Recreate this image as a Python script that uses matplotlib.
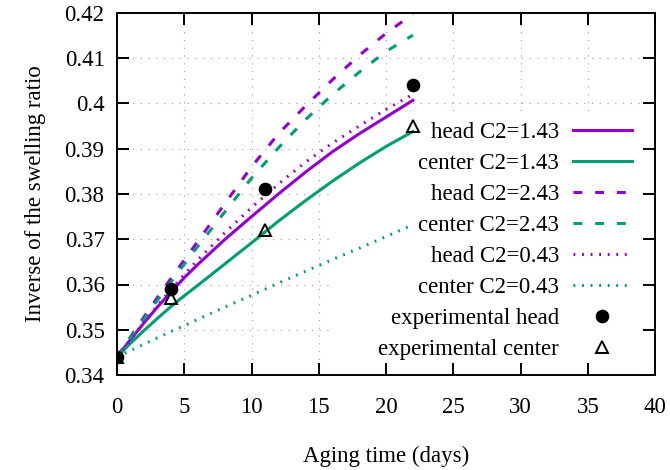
import matplotlib
matplotlib.use("Agg")
import matplotlib.pyplot as plt
from matplotlib.patches import Rectangle

# ---- data ----
days_model = [0, 1, 2, 3, 4, 5, 6, 8, 10, 12, 14, 16, 18, 20, 22]
head_143 = [0.3440, 0.3478, 0.3515, 0.3550, 0.3583, 0.3615, 0.3644, 0.3699, 0.3750,
            0.3800, 0.3848, 0.3893, 0.3933, 0.3970, 0.4007]
center_143 = [0.3440, 0.3470, 0.3498, 0.3525, 0.3551, 0.3575, 0.3598, 0.3645, 0.3692,
              0.3740, 0.3785, 0.3828, 0.3868, 0.3905, 0.3938]
head_243 = [0.3440, 0.3484, 0.3528, 0.3571, 0.3613, 0.3654, 0.3695, 0.3778, 0.3860,
            0.3933, 0.3994, 0.4052, 0.4106, 0.4155, 0.4198]
center_243 = [0.3440, 0.3482, 0.3524, 0.3565, 0.3605, 0.3645, 0.3684, 0.3760, 0.3835,
              0.3902, 0.3964, 0.4019, 0.4069, 0.4115, 0.4151]
head_043 = [0.3440, 0.3478, 0.3516, 0.3553, 0.3588, 0.3622, 0.3654, 0.3714, 0.3770,
            0.3822, 0.3870, 0.3912, 0.3950, 0.3987, 0.4020]
center_043 = [0.3440, 0.3454, 0.3468, 0.3482, 0.3496, 0.3509, 0.3523, 0.3550, 0.3576,
              0.3603, 0.3629, 0.3655, 0.3680, 0.3706, 0.3732]

exp_days = [0, 4, 11, 22]
exp_head = [0.344, 0.359, 0.381, 0.404]
exp_center = [0.344, 0.357, 0.372, 0.395]

xticks = [0, 5, 10, 15, 20, 25, 30, 35, 40]
yticks = [0.34, 0.35, 0.36, 0.37, 0.38, 0.39, 0.40, 0.41, 0.42]
ytick_labels = ["0.34", "0.35", "0.36", "0.37", "0.38", "0.39", "0.4", "0.41", "0.42"]

PURPLE = "#9400D3"
GREEN = "#009E73"

plt.rcParams["font.family"] = ["Liberation Serif", "DejaVu Serif"]
plt.rcParams["font.size"] = 16.5

fig = plt.figure(figsize=(6.7, 4.7), dpi=100)
ax = fig.add_axes([117 / 670, 1 - 375 / 470, 538 / 670, 362 / 470])

# manual grid below everything
ax.vlines(xticks[1:-1], yticks[0], yticks[-1], colors="#999999", linewidth=0.8,
          linestyles=(0, (1, 6)), zorder=0.5)
ax.hlines(yticks[1:-1], xticks[0], xticks[-1], colors="#999999", linewidth=0.8,
          linestyles=(0, (1, 6)), zorder=0.5)
# key background hides grid
ax.add_patch(Rectangle((0.4015, 0.0), 0.5985, 0.7238, transform=ax.transAxes,
                       facecolor="white", edgecolor="none", zorder=1))

lw = 2.2
dash = (0, (2.9, 4.2))
dot = (0, (0.6, 2.2))
ax.plot(days_model, head_143, color=PURPLE, lw=lw, label="head C2=1.43", zorder=2)
ax.plot(days_model, center_143, color=GREEN, lw=lw, label="center C2=1.43", zorder=2)
ax.plot(days_model, head_243, color=PURPLE, lw=lw, ls=dash, label="head C2=2.43", zorder=2)
ax.plot(days_model, center_243, color=GREEN, lw=lw, ls=dash, label="center C2=2.43", zorder=2)
ax.plot(days_model, head_043, color=PURPLE, lw=lw, ls=dot, label="head C2=0.43", zorder=2)
ax.plot(days_model, center_043, color=GREEN, lw=lw, ls=dot, label="center C2=0.43", zorder=2)
ax.plot(exp_days, exp_head, ls="none", marker="o", ms=8.8, color="black",
        label="experimental head", zorder=3)
ax.plot(exp_days, exp_center, ls="none", marker="^", ms=9.0, mfc="none", mec="black",
        mew=1.4, label="experimental center", zorder=3)

ax.set_xlim(0, 40)
ax.set_ylim(0.34, 0.42)
ax.set_xticks(xticks)
ax.set_yticks(yticks)
ax.set_yticklabels(ytick_labels)
ax.tick_params(direction="in", length=8.6, width=1.4, top=True, right=True)
ax.tick_params(axis="x", pad=15.5)
ax.tick_params(axis="y", pad=9)
for s in ax.spines.values():
    s.set_linewidth(1.4)

ax.set_xlabel("Aging time (days)", labelpad=20.5)
ax.set_ylabel("Inverse of the swelling ratio", labelpad=13)

leg = ax.legend(loc="upper right", bbox_to_anchor=(0.957, 0.698), markerfirst=False,
                frameon=False, borderpad=0, borderaxespad=0, handlelength=2.57,
                handletextpad=0.6, labelspacing=0.43, fontsize=16.5)
leg.set_zorder(5)

fig.savefig("out.png", dpi=100)
